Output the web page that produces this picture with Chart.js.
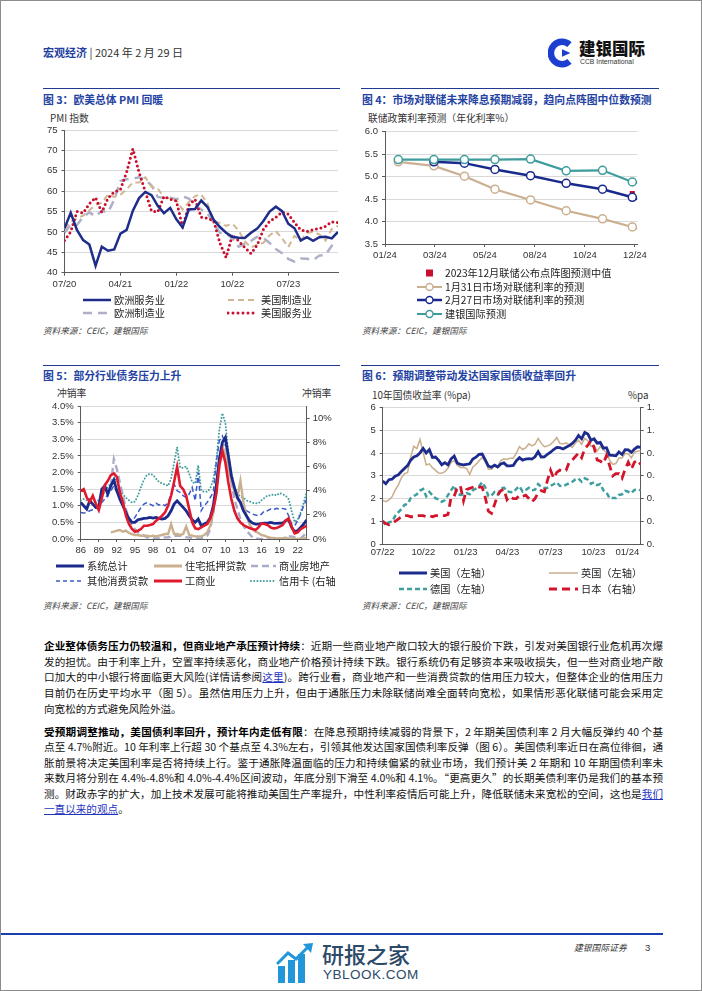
<!DOCTYPE html>
<html lang="zh-CN">
<head>
<meta charset="utf-8">
<title>宏观经济 2024-02-29</title>
<script src="https://cdn.jsdelivr.net/npm/chart.js@4.4.1/dist/chart.umd.min.js"></script>
<style>
  html, body { margin:0; padding:0; background:#fff; }
  #page { position:relative; width:702px; height:991px; overflow:hidden; background:#fff;
          font-family:"Noto Sans CJK SC","Noto Sans",sans-serif; color:#1a1a1a; }
  #frame { position:absolute; left:0; top:0; width:700px; height:989px; border:1px solid #8c8c8c; pointer-events:none; }
  .a { position:absolute; white-space:nowrap; line-height:1; }
  .rule { position:absolute; height:0; border-top:1.3px solid #1f3a8f; }
  .ctitle { position:absolute; white-space:nowrap; font-weight:bold; color:#2443a3; font-size:10.8px; line-height:1; transform:translateY(-50%); }
  .axt { position:absolute; white-space:nowrap; font-size:9.8px; color:#333; line-height:1; transform:translateY(-50%); }
  .src { position:absolute; white-space:nowrap; font-size:8.6px; font-style:italic; color:#444; line-height:1; transform:translateY(-50%); }
  .leg { position:absolute; white-space:nowrap; font-size:10.2px; color:#222; line-height:1; transform:translateY(-50%); display:flex; align-items:center; }
  .leg svg { display:block; margin-right:2px; }
  canvas { position:absolute; }
  .ln { position:absolute; left:44px; width:619px; font-size:10.6px; line-height:14px; height:14px; color:#111;
        text-align:justify; text-align-last:justify; overflow:hidden; transform:translateY(-50%); }
  .ln.last { text-align:left; text-align-last:left; }
  .ln b { font-weight:bold; color:#000; }
  .lk { color:#1f35c0; text-decoration:underline; }
</style>
</head>
<body>
<div id="page">
  <!-- header -->
  <div class="a" style="left:43px;top:47px;font-size:11px;"><span style="color:#1f3f9f;font-weight:bold;">宏观经济</span><span style="color:#333;"> | 2024 年 2 月 29 日</span></div>
  <svg class="a" style="left:548px;top:38px;" width="28" height="30" viewBox="0 0 30 32">
    <path d="M 23 7 A 12 12 0 1 0 23 25" fill="none" stroke="#1c3fd1" stroke-width="7"/>
    <path d="M15 12 L24 16 L15 20 Z" fill="#1c3fd1"/>
  </svg>
  <div class="a" style="left:579px;top:40px;font-size:16.5px;font-weight:900;color:#111;">建银国际</div>
  <div class="a" style="left:580px;top:59px;font-size:6.8px;color:#333;font-family:'Liberation Sans',sans-serif;">CCB International</div>

  <!-- chart titles -->
  <div class="rule" style="left:43px;width:297px;top:88px;"></div>
  <div class="rule" style="left:361px;width:298px;top:88px;"></div>
  <div class="ctitle" style="left:43px;top:99px;">图 3：欧美总体 PMI 回暖</div>
  <div class="ctitle" style="left:362px;top:99px;">图 4：市场对联储未来降息预期减弱，趋向点阵图中位数预测</div>

  <div class="axt" style="left:50px;top:119px;">PMI 指数</div>
  <div class="axt" style="left:368px;top:119px;">联储政策利率预测（年化利率%）</div>

  <canvas id="c3" width="315" height="170" style="left:30px;top:120px;"></canvas>
  <canvas id="c4" width="295" height="140" style="left:355px;top:120px;"></canvas>

  <div class="src" style="left:43px;top:330px;">资料来源：CEIC，建银国际</div>
  <div class="src" style="left:362px;top:330px;">资料来源：CEIC，建银国际</div>

  <div class="rule" style="left:43px;width:297px;top:365px;"></div>
  <div class="rule" style="left:361px;width:298px;top:365px;"></div>
  <div class="ctitle" style="left:43px;top:375px;">图 5：部分行业债务压力上升</div>
  <div class="ctitle" style="left:362px;top:375px;">图 6：预期调整带动发达国家国债收益率回升</div>

  <div class="axt" style="left:57px;top:394px;">冲销率</div>
  <div class="axt" style="left:302px;top:394px;">冲销率</div>
  <div class="axt" style="left:372px;top:396px;">10年国债收益率 (%pa)</div>
  <div class="axt" style="left:628px;top:396px;">%pa</div>

  <canvas id="c5" width="320" height="165" style="left:30px;top:395px;"></canvas>
  <canvas id="c6" width="310" height="165" style="left:355px;top:395px;"></canvas>

  <div class="src" style="left:43px;top:605px;">资料来源：CEIC，建银国际</div>
  <div class="src" style="left:362px;top:605px;">资料来源：CEIC，建银国际</div>

  <!-- body text -->
  <div class="ln" style="top:646px;"><b>企业整体债务压力仍较温和，但商业地产承压预计持续</b>：近期一些商业地产敞口较大的银行股价下跌，引发对美国银行业危机再次爆</div>
  <div class="ln" style="top:661.7px;">发的担忧。由于利率上升，空置率持续恶化，商业地产价格预计持续下跌。银行系统仍有足够资本来吸收损失，但一些对商业地产敞</div>
  <div class="ln" style="top:677.4px;">口加大的中小银行将面临更大风险(详情请参阅<span class="lk">这里</span>)。跨行业看，商业地产和一些消费贷款的信用压力较大，但整体企业的信用压力</div>
  <div class="ln" style="top:693.1px;">目前仍在历史平均水平（图 5）。虽然信用压力上升，但由于通胀压力未除联储尚难全面转向宽松，如果情形恶化联储可能会采用定</div>
  <div class="ln last" style="top:708.8px;">向宽松的方式避免风险外溢。</div>

  <div class="ln" style="top:732px;"><b>受预期调整推动，美国债利率回升，预计年内走低有限</b>：在降息预期持续减弱的背景下，2 年期美国债利率 2 月大幅反弹约 40 个基</div>
  <div class="ln" style="top:747.4px;">点至 4.7%附近。10 年利率上行超 30 个基点至 4.3%左右，引领其他发达国家国债利率反弹（图 6）。美国债利率近日在高位徘徊，通</div>
  <div class="ln" style="top:762.8px;">胀前景将决定美国利率是否将持续上行。鉴于通胀降温面临的压力和持续偏紧的就业市场，我们预计美 2 年期和 10 年期国债利率未</div>
  <div class="ln" style="top:778.2px;">来数月将分别在 4.4%-4.8%和 4.0%-4.4%区间波动，年底分别下滑至 4.0%和 4.1%。“更高更久”的长期美债利率仍是我们的基本预</div>
  <div class="ln" style="top:793.6px;">测。财政赤字的扩大，加上技术发展可能将推动美国生产率提升，中性利率疫情后可能上升，降低联储未来宽松的空间，这也是<span class="lk">我们</span></div>
  <div class="ln last" style="top:809px;"><span class="lk">一直以来的观点</span>。</div>

  <!-- footer -->
  <div style="position:absolute;left:0;top:933px;width:663px;height:2px;background:#1a3db0;"></div>
  <svg class="a" style="left:276px;top:942px;" width="40" height="42" viewBox="0 0 40 42">
    <rect x="2" y="24" width="7" height="17" fill="#2196d8"/>
    <rect x="12" y="18" width="7" height="23" fill="#2196d8"/>
    <rect x="22" y="12" width="7" height="29" fill="#2196d8"/>
    <path d="M1 22 L12 11 L20 17 L33 4" fill="none" stroke="#2196d8" stroke-width="3"/>
    <path d="M27 2 L37 1 L35 11 Z" fill="#2196d8"/>
  </svg>
  <div class="a" style="left:322px;top:942px;font-size:22px;color:#2d4a68;font-weight:500;">研报之家</div>
  <div class="a" style="left:323px;top:968px;font-size:13.5px;color:#2d4a68;font-family:'Liberation Sans',sans-serif;letter-spacing:0.5px;">YBLOOK.COM</div>
  <div class="a" style="left:574px;top:944px;font-size:8.8px;font-style:italic;color:#333;">建银国际证券</div>
  <div class="a" style="left:645px;top:943px;font-size:9.5px;color:#333;font-family:'Liberation Sans',sans-serif;">3</div>

  <div id="frame"></div>
</div>

<script>
// ================= DATA =================
// Figure 3: PMI, monthly Jun 2020 .. Feb 2024
const pmiMonths = ['2020-06','2020-07','2020-08','2020-09','2020-10','2020-11','2020-12',
  '2021-01','2021-02','2021-03','2021-04','2021-05','2021-06','2021-07','2021-08','2021-09','2021-10','2021-11','2021-12',
  '2022-01','2022-02','2022-03','2022-04','2022-05','2022-06','2022-07','2022-08','2022-09','2022-10','2022-11','2022-12',
  '2023-01','2023-02','2023-03','2023-04','2023-05','2023-06','2023-07','2023-08','2023-09','2023-10','2023-11','2023-12',
  '2024-01','2024-02'];
const pmiTickPos = [0, 9, 18, 27, 36];
const pmiTickLabels = ['07/20','04/21','01/22','10/22','07/23'];
const pmiNames = ['欧洲服务业','美国制造业','欧洲制造业','美国服务业'];
const euServices = [50.9,54.7,50.5,48.0,46.9,41.7,46.4,
  45.4,45.7,49.6,50.5,55.2,58.3,59.8,59.0,56.4,54.6,55.9,53.1,
  51.1,55.5,55.6,57.7,56.1,53.0,51.2,49.8,48.8,48.6,48.5,49.8,
  50.8,52.7,55.0,56.2,55.1,52.0,50.9,47.9,48.7,47.8,48.7,48.8,
  48.4,50.0];
const usManufacturing = [50.8,52.5,53.3,54.0,55.3,56.7,57.1,
  59.2,58.6,59.1,60.5,62.1,62.1,63.4,61.1,60.7,58.4,58.3,57.7,
  55.5,57.3,58.8,59.2,57.0,52.7,52.2,51.5,52.0,50.4,47.7,46.2,
  46.9,47.3,49.2,50.2,48.4,46.3,49.0,47.9,49.8,50.0,49.4,47.9,
  50.7,51.5];
const euManufacturing = [49.8,51.8,51.7,53.7,54.8,53.8,55.2,
  54.8,57.9,62.5,62.9,63.1,63.4,62.8,61.4,58.6,58.3,58.4,58.0,
  58.7,58.2,56.5,55.5,54.6,52.1,49.8,49.6,48.4,46.4,47.1,47.8,
  48.8,48.5,47.3,45.8,44.8,43.4,42.7,43.5,43.4,43.1,44.2,44.4,
  46.6,46.1];
const usServices = [47.9,50.0,55.0,54.6,56.9,58.4,54.8,
  58.3,59.8,60.4,64.7,70.4,64.6,59.9,55.1,54.9,58.7,58.0,57.6,
  51.2,56.5,58.0,53.6,53.4,52.7,47.3,43.7,49.3,47.8,46.2,44.7,
  46.8,50.6,52.6,53.6,54.9,54.4,52.3,50.5,50.1,50.6,50.8,51.4,
  52.5,52.3];

// Figure 4: Fed policy rate path (day of year 2024)
const fedDays = [31, 80, 122, 164, 213, 262, 312, 353, 360];
const fedTickPos = [12.7, 81.5, 150.3, 219.1, 287.9, 356.7];
const fedTickLabels = ['01/24','03/24','05/24','08/24','10/24','12/24'];
const fedNames = ['2023年12月联储公布点阵图预测中值','1月31日市场对联储利率的预测','2月27日市场对联储利率的预测','建银国际预测'];
const mktJan31 = [5.33,5.24,5.01,4.72,4.48,4.24,4.06,3.88,3.84];
const mktFeb27 = [null,5.33,5.30,5.16,5.02,4.85,4.72,4.54,4.50];
const ccbiForecast = [5.38,5.38,5.38,5.38,5.39,5.13,5.14,4.88,4.86];
const dotPlotDays = [353];
const dotPlotMedian = [4.625];

// Figure 5: charge-off rates, half-year periods from 1986H1 to 2023H2
const coStartYear = 1986;
const coTickPos = [1986,1989,1992,1995,1998,2001,2004,2007,2010,2013,2016,2019,2022];
const coTickLabels = ['86','89','92','95','98','01','04','07','10','13','16','19','22'];
const coNames = ['系统总计','住宅抵押贷款','商业房地产','其他消费贷款','工商业','信用卡 (右轴'];
const coTotal = [1.10,1.00, 0.90,1.15, 1.05,0.95, 0.97,1.50, 1.60,1.35, 1.60,1.78, 1.45,1.20, 1.00,0.80,
  0.60,0.50, 0.50,0.58, 0.60,0.62, 0.63,0.65, 0.63,0.65, 0.62,0.60, 0.62,0.70, 0.85,1.05, 1.15,1.05,
  0.95,0.85, 0.70,0.58, 0.50,0.60, 0.40,0.45, 0.50,0.65, 1.00,1.60, 2.40,2.90, 3.05,2.50, 1.90,1.55,
  1.25,1.10, 0.85,0.70, 0.55,0.48, 0.45,0.45, 0.47,0.48, 0.48,0.50, 0.48,0.47, 0.48,0.48, 0.55,0.58,
  0.35,0.22, 0.25,0.35, 0.45,0.58];
const coResidential = [null,null, null,null, null,null, null,null, null,null,
  0.20,0.22, 0.25,0.27, 0.22,0.25, 0.18,0.15, 0.12,0.12, 0.10,0.10, 0.10,0.08, 0.10,0.08, 0.10,0.12,
  0.15,0.15, 0.45,0.15, 0.15,0.12, 0.15,0.38, 0.12,0.10, 0.08,0.08, 0.08,0.12, 0.20,0.40, 0.80,1.60,
  2.40,2.80, 2.50,2.10, 1.75,1.45, 1.25,1.75, 1.10,0.70, 0.45,0.30, 0.22,0.18, 0.12,0.10, 0.06,0.04,
  0.03,0.02, 0.02,0.02, 0.04,0.02, 0.00,0.00, 0.00,0.00, 0.02,0.03];
const coCRE = [null,null, null,null, null,null, null,null, null,null,
  1.60,2.40, 2.10,1.70, 1.30,0.90, 0.60,0.40, 0.30,0.20, 0.15,0.10, 0.05,0.03, 0.02,0.02, 0.02,0.04,
  0.05,0.05, 0.08,0.10, 0.10,0.10, 0.08,0.05, 0.05,0.03, 0.02,0.02, 0.02,0.05, 0.10,0.30, 0.80,1.40,
  2.20,2.80, 2.85,2.30, 1.70,1.20, 0.90,0.60, 0.40,0.25, 0.15,0.05, 0.02,0.00, 0.00,0.00, 0.00,0.00,
  0.00,0.00, 0.02,0.02, 0.05,0.08, 0.08,0.05, 0.02,0.02, 0.10,0.20];
const coOtherConsumer = [0.80,0.78, 0.80,0.85, 0.88,0.90, 1.00,1.10, 1.20,1.35, 1.45,1.60, 1.40,1.25,
  1.10,0.85, 0.65,0.55, 0.65,0.80, 0.95,1.05, 1.10,1.05, 1.00,1.08, 1.02,1.05, 1.00,1.10, 1.35,1.65,
  1.45,1.40, 1.30,1.25, 1.35,1.55, 1.15,2.00, 0.85,1.00, 1.10,1.25, 1.40,2.30, 2.95,3.10, 2.90,2.40,
  1.90,1.35, 1.20,1.05, 0.95,0.85, 0.80,0.75, 0.72,0.70, 0.75,0.85, 0.85,0.90, 0.88,0.92, 0.90,0.92,
  0.90,0.70, 0.45,0.40, 0.55,0.75, 1.00,1.20];
const coCommercialIndustrial = [1.45,1.50, 1.25,1.12, 1.30,1.07, 0.87,1.22, 1.62,1.75, 1.92,1.97, 1.87,1.40,
  1.10,0.70, 0.45,0.30, 0.22,0.25, 0.30,0.40, 0.40,0.42, 0.45,0.55, 0.62,0.70, 0.80,1.00, 1.30,1.72,
  2.17,1.60, 1.50,1.30, 0.90,0.50, 0.32,0.30, 0.35,0.40, 0.45,0.62, 0.90,1.35, 2.20,2.65, 2.30,1.70,
  1.20,0.85, 0.62,0.50, 0.42,0.37, 0.33,0.30, 0.27,0.35, 0.47,0.45, 0.42,0.35, 0.32,0.33, 0.37,0.42,
  0.55,0.62, 0.37,0.17, 0.20,0.30, 0.35,0.40];
const coCreditCard = [3.2,3.3, 3.2,3.0, 3.0,3.1, 3.2,3.6, 3.9,4.3, 4.6,5.0, 4.8,4.1, 3.7,3.4, 3.2,3.0,
  3.1,3.6, 4.3,4.9, 5.3,5.4, 5.3,5.0, 4.7,4.6, 4.5,4.4, 5.0,6.3, 7.6,5.9, 5.9,6.0, 5.4,4.7, 4.6,6.1,
  4.0,3.9, 3.9,4.2, 4.9,6.5, 9.0,10.4, 9.6,7.2, 5.5,4.3, 3.8,3.5, 3.4,3.2, 3.1,3.0, 2.95,2.95,
  3.2,3.4, 3.6,3.6, 3.7,3.6, 3.8,3.7, 3.6,3.3, 2.3,1.4, 1.6,2.2, 3.0,3.9];

// Figure 6: 10y government bond yields, weekly from 22 Jul 2022 to 23 Feb 2024
const ylTickPos = [0, 13.1, 26.7, 40.1, 54, 67.8, 78.7];
const ylTickLabels = ['07/22','10/22','01/23','04/23','07/23','10/23','01/24'];
const jpAxisLabels = ['0.','0.','0.','0.','0.','1.','1.'];
const ylNames = ['美国（左轴）','英国（左轴）','德国（左轴）','日本（右轴）'];
const us10y = [2.77,2.65,2.83,2.85,2.98,3.04,3.19,3.32,3.45,3.69,3.83,3.88,4.01,4.21,4.01,4.16,3.81,3.83,3.68,3.49,3.58,3.48,3.75,3.87,
  3.56,3.50,3.48,3.51,3.53,3.74,3.82,3.95,3.96,3.70,3.43,3.38,3.47,3.39,3.52,3.57,3.44,3.44,3.46,3.67,3.80,3.69,3.74,3.76,3.74,3.84,
  4.06,3.83,3.84,3.95,4.04,4.16,4.25,4.24,4.18,4.26,4.33,4.43,4.57,4.78,4.63,4.91,4.84,4.57,4.63,4.44,4.47,4.22,4.24,3.91,3.90,3.88,
  4.05,3.94,4.15,4.14,4.03,4.18,4.28,4.25];
const uk10y = [1.92,1.86,1.94,2.08,2.37,2.59,2.91,3.10,3.14,3.82,4.30,4.20,4.60,4.05,3.48,3.53,3.36,3.24,3.12,3.11,3.18,3.33,3.60,3.67,
  3.47,3.37,3.38,3.32,3.06,3.39,3.50,3.66,3.81,3.62,3.29,3.29,3.49,3.43,3.67,3.75,3.72,3.78,3.78,4.00,4.28,4.16,4.23,4.41,4.32,4.39,
  4.65,4.44,4.28,4.31,4.38,4.52,4.68,4.43,4.40,4.45,4.36,4.25,4.44,4.57,4.39,4.65,4.55,4.30,4.33,4.10,4.29,4.14,4.03,3.69,3.50,3.54,
  3.79,3.79,3.98,3.97,3.79,4.04,4.08,4.10];
const de10y = [1.03,0.82,0.96,0.98,1.23,1.39,1.53,1.72,1.76,2.02,2.11,2.19,2.35,2.42,2.10,2.29,2.15,2.01,1.97,1.86,1.93,2.15,2.36,2.57,
  2.21,2.16,2.17,2.24,2.19,2.37,2.44,2.54,2.72,2.50,2.11,2.13,2.29,2.18,2.44,2.48,2.31,2.29,2.27,2.43,2.54,2.31,2.38,2.47,2.36,2.39,
  2.64,2.51,2.47,2.48,2.56,2.63,2.71,2.56,2.55,2.61,2.67,2.74,2.84,2.88,2.74,2.89,2.83,2.65,2.72,2.59,2.64,2.36,2.27,2.02,2.02,2.02,
  2.16,2.19,2.34,2.30,2.24,2.38,2.40,2.36];
const jp10y = [0.20,0.18,0.17,0.18,0.20,0.22,0.24,0.25,0.25,0.24,0.24,0.25,0.25,0.25,0.24,0.25,0.24,0.25,0.25,0.25,0.25,0.26,0.41,0.42,
  0.50,0.51,0.38,0.48,0.49,0.50,0.51,0.50,0.50,0.41,0.29,0.27,0.35,0.43,0.47,0.48,0.39,0.42,0.40,0.40,0.43,0.42,0.43,0.40,0.37,0.40,
  0.45,0.47,0.46,0.56,0.65,0.58,0.63,0.65,0.64,0.65,0.72,0.74,0.77,0.80,0.76,0.84,0.87,0.91,0.85,0.74,0.73,0.71,0.78,0.69,0.60,0.62,
  0.62,0.58,0.66,0.72,0.66,0.72,0.74,0.70];

// ================= COLOURS =================
const C = {
  navy:'#1f2d8a', tan:'#d0b694', lav:'#aeb0c8', red:'#c8102e', teal:'#3f9c9c',
  blue:'#3a5cc8', red2:'#e01a2e', axis:'#5a5a5a', grid:'#d9d9d9'
};

// ================= HELPERS =================
Chart.defaults.font.family = '"Liberation Sans", Arial, sans-serif';
Chart.defaults.font.size = 9.5;
Chart.defaults.color = '#333';
Chart.defaults.animation = false;
Chart.defaults.plugins.legend.display = false;
Chart.defaults.plugins.tooltip.enabled = false;
Chart.defaults.elements.point.radius = 0;
Chart.defaults.elements.line.tension = 0;

const fixW = w => s => { s.width = w; };
const fixH = h => s => { s.height = h; };
const setTicks = pos => s => { s.ticks = pos.map(v => ({ value: v })); };
const pts = (xs, ys) => ys.map((y, i) => ({ x: xs[i], y: y }));

function xAxis(min, max, pos, labels, h, tick) {
  return { type:'linear', min, max, afterBuildTicks:setTicks(pos), afterFit:fixH(h),
    ticks:{ callback:(v,i)=>labels[i], autoSkip:false, maxRotation:0, padding:3 },
    grid:{ drawOnChartArea:false, drawTicks:tick > 0, tickLength:tick, color:C.axis },
    border:{ color:C.axis } };
}
function yAxis(min, max, step, w, fmt, extra) {
  return Object.assign({ min, max, afterFit:fixW(w),
    ticks:{ stepSize:step, padding:4, callback:fmt },
    grid:{ color:C.grid, tickColor:C.axis, tickLength:3 },
    border:{ color:C.axis } }, extra || {});
}

// ================= FIG 3 =================
const pmiIdx = pmiMonths.map((m, i) => i);
new Chart(document.getElementById('c3'), {
  type:'line',
  data:{ datasets:[
    { label:pmiNames[0], data:pts(pmiIdx, euServices), borderColor:C.navy, borderWidth:2.5 },
    { label:pmiNames[3], data:pts(pmiIdx, usServices), borderColor:C.red, borderWidth:3, borderDash:[0,4.6], borderCapStyle:'round' },
    { label:pmiNames[1], data:pts(pmiIdx, usManufacturing), borderColor:C.tan, borderWidth:2, borderDash:[6,4] },
    { label:pmiNames[2], data:pts(pmiIdx, euManufacturing), borderColor:C.lav, borderWidth:2.5, borderDash:[9,6] }
  ]},
  options:{ responsive:false, layout:{ padding:{ left:0, right:7, top:10, bottom:0 } },
    scales:{
      x: xAxis(0, 44, pmiTickPos, pmiTickLabels, 17.3, 3),
      y: yAxis(40, 75, 5, 34.5, v => String(v))
    } }
});

// ================= FIG 4 =================
const lastIdx = fedDays.length - 1;
const mk = (color, w) => ({ borderColor:color, borderWidth:w, pointBorderColor:color, pointBackgroundColor:'#fff',
  pointBorderWidth:1.5, pointRadius: ctx => ctx.dataIndex === lastIdx ? 0 : 4 });
new Chart(document.getElementById('c4'), {
  type:'line',
  data:{ datasets:[
    Object.assign({ label:fedNames[3], data:pts(fedDays, ccbiForecast) }, mk(C.teal, 2.2)),
    Object.assign({ label:fedNames[2], data:pts(fedDays, mktFeb27) }, mk('#1a2a8c', 2.5)),
    Object.assign({ label:fedNames[1], data:pts(fedDays, mktJan31) }, mk('#cbb090', 2.2)),
    { label:fedNames[0], data:pts(dotPlotDays, dotPlotMedian), showLine:false, pointStyle:'rect',
      pointRadius:3.6, pointBackgroundColor:C.red, pointBorderColor:C.red, pointBorderWidth:0 }
  ]},
  options:{ responsive:false, layout:{ padding:{ left:0, right:12.3, top:11.7, bottom:0 } },
    scales:{
      x: xAxis(12.7, 360, fedTickPos, fedTickLabels, 16, 3),
      y: yAxis(3.5, 6.0, 0.5, 30, v => v.toFixed(1))
    } }
});

// ================= FIG 5 =================
const coX = coTotal.map((v, i) => coStartYear + i * 0.5);
new Chart(document.getElementById('c5'), {
  type:'line',
  data:{ datasets:[
    { label:coNames[4], data:pts(coX, coCommercialIndustrial), borderColor:C.red2, borderWidth:2.6, yAxisID:'y' },
    { label:coNames[0], data:pts(coX, coTotal), borderColor:'#1b2b8c', borderWidth:2.8, yAxisID:'y' },
    { label:coNames[1], data:pts(coX, coResidential), borderColor:'#c9b08f', borderWidth:2.4, yAxisID:'y' },
    { label:coNames[2], data:pts(coX, coCRE), borderColor:'#a9abc9', borderWidth:2.4, borderDash:[7,4], yAxisID:'y' },
    { label:coNames[3], data:pts(coX, coOtherConsumer), borderColor:C.blue, borderWidth:1.5, borderDash:[5,3], yAxisID:'y' },
    { label:coNames[5], data:pts(coX, coCreditCard), borderColor:C.teal, borderWidth:2, borderDash:[0,3.2], borderCapStyle:'round', yAxisID:'y1' }
  ]},
  options:{ responsive:false, layout:{ padding:{ left:0, right:0, top:11, bottom:0 } },
    scales:{
      x: xAxis(1986, 2023.5, coTickPos, coTickLabels, 21, 3),
      y: yAxis(0, 4, 0.5, 50.7, v => v.toFixed(1) + '%'),
      y1: { position:'right', min:0, max:11, afterFit:fixW(43.3),
        ticks:{ stepSize:1, padding:3, callback:v => v + '%' },
        grid:{ drawOnChartArea:false, tickColor:C.axis, tickLength:3 }, border:{ color:C.axis } }
    } }
});

// ================= FIG 6 =================
const ylX = us10y.map((v, i) => i);
new Chart(document.getElementById('c6'), {
  type:'line',
  data:{ datasets:[
    { label:ylNames[0], data:pts(ylX, us10y), borderColor:'#1d2c8c', borderWidth:2.8, yAxisID:'y' },
    { label:ylNames[3], data:pts(ylX, jp10y), borderColor:'#d3152c', borderWidth:2.8, borderDash:[8,5], yAxisID:'y1' },
    { label:ylNames[1], data:pts(ylX, uk10y), borderColor:'#c9ad8c', borderWidth:1.5, yAxisID:'y' },
    { label:ylNames[2], data:pts(ylX, de10y), borderColor:'#3f9f9f', borderWidth:2.5, borderDash:[5,3], yAxisID:'y' }
  ]},
  options:{ responsive:false, layout:{ padding:{ left:0, right:0, top:12.7, bottom:0 } },
    scales:{
      x: xAxis(0, 83, ylTickPos, ylTickLabels, 16, 0),
      y: yAxis(0, 6, 1, 27.7, v => String(v)),
      y1: { position:'right', min:0, max:1.2, afterFit:fixW(24.3),
        afterBuildTicks:setTicks([0,0.2,0.4,0.6,0.8,1.0,1.2]),
        ticks:{ padding:3, callback:(v,i) => jpAxisLabels[i] },
        grid:{ drawOnChartArea:false, tickColor:C.axis, tickLength:3 }, border:{ color:C.axis } }
    } }
});

// ================= HTML LEGENDS =================
const page = document.getElementById('page');
function legend(x, y, text, s) {
  const d = document.createElement('div');
  d.className = 'leg';
  d.style.left = x + 'px'; d.style.top = y + 'px';
  const L = s.len || 30;
  let svg = '<svg width="' + L + '" height="12" viewBox="0 0 ' + L + ' 12">';
  if (s.square) {
    svg += '<rect x="' + (L/2 - 3.5) + '" y="2.5" width="7" height="7" fill="' + s.color + '"/>';
  } else {
    svg += '<line x1="1" y1="6" x2="' + (L-1) + '" y2="6" stroke="' + s.color + '" stroke-width="' + s.w + '"' +
      (s.dash ? ' stroke-dasharray="' + s.dash + '"' : '') + ' stroke-linecap="' + (s.cap || 'butt') + '"/>';
    if (s.marker) svg += '<circle cx="' + (L/2) + '" cy="6" r="3.5" fill="#fff" stroke="' + s.color + '" stroke-width="1.4"/>';
  }
  svg += '</svg>';
  d.innerHTML = svg + '<span>' + text + '</span>';
  page.appendChild(d);
}
// Fig 3
legend(82, 300, pmiNames[0], { color:C.navy, w:2.5, len:30 });
legend(227, 300, pmiNames[1], { color:C.tan, w:2, dash:'6 4', len:32 });
legend(82, 313, pmiNames[2], { color:C.lav, w:2.5, dash:'9 6', len:30 });
legend(227, 313, pmiNames[3], { color:C.red, w:3, dash:'0 5', cap:'round', len:32 });
// Fig 4
legend(416, 273, fedNames[0], { square:true, color:C.red, len:27 });
legend(416, 287, fedNames[1], { color:'#cbb090', w:2, marker:true, len:27 });
legend(416, 300, fedNames[2], { color:'#1a2a8c', w:2.5, marker:true, len:27 });
legend(416, 314, fedNames[3], { color:C.teal, w:2, marker:true, len:27 });
// Fig 5
legend(55, 566, coNames[0], { color:'#1b2b8c', w:3, len:30 });
legend(153, 566, coNames[1], { color:'#c9b08f', w:3, len:30 });
legend(250, 566, coNames[2], { color:'#a9abc9', w:2.5, dash:'7 4', len:27 });
legend(55, 581, coNames[3], { color:C.blue, w:1.5, dash:'4 3', len:30 });
legend(153, 581, coNames[4], { color:C.red2, w:3, len:30 });
legend(250, 581, coNames[5], { color:C.teal, w:2, dash:'0 3.2', cap:'round', len:27 });
// Fig 6
legend(398, 573, ylNames[0], { color:'#1d2c8c', w:3, len:30 });
legend(548, 573, ylNames[1], { color:'#c9ad8c', w:1.5, len:31 });
legend(398, 589, ylNames[2], { color:'#3f9f9f', w:2.5, dash:'5 3', len:30 });
legend(548, 589, ylNames[3], { color:'#d3152c', w:3, dash:'8 5', len:31 });
</script>
</body>
</html>
